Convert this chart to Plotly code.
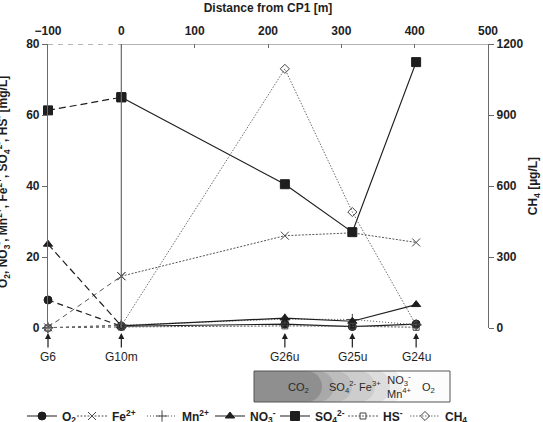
import plotly.graph_objects as go

# ---------------- data ----------------
distance = [-100, 0, 223, 315, 402]
wells = ["G6", "G10m", "G26u", "G25u", "G24u"]
o2 = [7.9, 0.5, 1.1, 0.4, 1.1]
fe = [0.2, 14.6, 26.0, 26.8, 24.1]
mn = [0.1, 0.8, 2.5, 2.4, 0.9]
no3 = [23.6, 0.6, 2.8, 1.9, 6.6]
so4 = [61.3, 65.0, 40.5, 27.0, 74.9]
hs = [0.0, 0.3, 0.6, 0.5, 0.2]
ch4 = [0, 10, 1095, 490, 12]

x_ticks = [-100, 0, 100, 200, 300, 400, 500]
y_ticks = [0, 20, 40, 60, 80]
y2_ticks = [0, 300, 600, 900, 1200]

W, H = 543, 422
L, R, T, B = 48, 55, 44, 94
PW, PH = W - L - R, H - T - B

FONT = "Arial, Liberation Sans, sans-serif"
DARK = "#1e1e1e"
AX = "#6a6a6a"


def px(xp):
    return (xp - L) / PW


def py(yp):
    return (H - B - yp) / PH


series = [
    # name, values, axis, main dash, color, width, marker symbol, marker size, lead dash, legend text x(px)
    ("O<sub>2</sub>", o2, "y", "solid", DARK, 1.2, "circle", 8, "6px,4px", 64),
    ("Fe<sup>2+</sup>", fe, "y", "2px,1.5px", "#555555", 1.0, "x-thin-open", 8, "5px,4px", 114),
    ("Mn<sup>2+</sup>", mn, "y", "1px,2px", "#555555", 1.0, "cross-thin-open", 8, "3px,3px", 184),
    ("NO<sub>3</sub><sup>-</sup>", no3, "y", "solid", DARK, 1.2, "triangle-up", 8, "7px,4px", 252),
    ("SO<sub>4</sub><sup>2-</sup>", so4, "y", "solid", DARK, 1.2, "square", 9, "7px,4px", 317),
    ("HS<sup>-</sup>", hs, "y", "2px,1.5px", "#555555", 1.0, "square-open", 6, "3px,3px", 385),
    ("CH<sub>4</sub>", ch4, "y2", "1.5px,1.5px", "#6e6e6e", 1.0, "diamond-open", 7, "3px,3px", 447),
]

fig = go.Figure()
legend_layouts = {}

for i, (name, vals, yax, dash, col, lw, sym, ms, lead, lx) in enumerate(series):
    is_open = sym.endswith("open")
    mk = dict(symbol=sym, size=ms, color="#444444" if is_open else DARK,
              line=dict(color="#444444" if is_open else col, width=1))
    lg = "legend" if i == 0 else f"legend{i + 1}"
    legend_layouts[lg] = dict(orientation="h", x=px(lx - 42), xanchor="left", y=py(416),
                              yanchor="middle", itemwidth=30, bgcolor="rgba(0,0,0,0)",
                              font=dict(family=FONT, size=12, color=DARK, weight=700))
    # leading segment G6 -> G10m (dashed)
    fig.add_trace(go.Scatter(
        x=distance[:2], y=vals[:2], yaxis=yax, mode="lines+markers",
        line=dict(color=col, width=lw, dash=lead), marker=mk,
        showlegend=False, cliponaxis=False, hoverinfo="skip"))
    # main segment from G10m onward
    fig.add_trace(go.Scatter(
        x=distance[1:], y=vals[1:], yaxis=yax, mode="lines+markers", name=name, legend=lg,
        line=dict(color=col, width=lw, dash=dash), marker=mk, cliponaxis=False))

shapes = []
# top axis line: dashed part then solid part
shapes.append(dict(type="line", xref="x", yref="y", x0=x_ticks[0], x1=x_ticks[1], y0=y_ticks[-1], y1=y_ticks[-1],
                   line=dict(color=AX, width=1.2, dash="5px,5px")))
shapes.append(dict(type="line", xref="x", yref="y", x0=x_ticks[1], x1=x_ticks[-1], y0=y_ticks[-1], y1=y_ticks[-1],
                   line=dict(color=AX, width=1.2)))
# vertical line at distance 0
shapes.append(dict(type="line", xref="x", yref="y", x0=0, x1=0, y0=y_ticks[0], y1=y_ticks[-1],
                   line=dict(color=AX, width=1.2)))

# redox gradient box (schematic)
bx0, bx1, by0, by1 = 254, 450, 371, 402
shapes.append(dict(type="rect", xref="paper", yref="paper", x0=px(bx0), x1=px(bx1), y0=py(by1), y1=py(by0),
                   fillcolor="#fcfcfc", line=dict(width=0), layer="above"))
layers = [("#eeeeee", 402, 392), ("#dddddd", 390, 377), ("#cdcdcd", 375, 358),
          ("#bdbdbd", 352, 334), ("#a9a9a9", 334, 316), ("#8f8f8f", 322, 305)]
for col, bmid, bedge in layers:
    c = (bmid - 0.25 * bedge) / 0.75
    path = (f"M {px(bx0)},{py(by0)} L {px(bedge)},{py(by0)} "
            f"C {px(c)},{py(by0)} {px(c)},{py(by1)} {px(bedge)},{py(by1)} "
            f"L {px(bx0)},{py(by1)} Z")
    shapes.append(dict(type="path", xref="paper", yref="paper", path=path,
                       fillcolor=col, line=dict(width=0), layer="above"))
shapes.append(dict(type="rect", xref="paper", yref="paper", x0=px(bx0), x1=px(bx1), y0=py(by1), y1=py(by0),
                   fillcolor="rgba(0,0,0,0)", line=dict(color="#555555", width=1), layer="above"))

annotations = []
# well arrows and labels
for d, w in zip(distance, wells):
    annotations.append(dict(x=d, y=0, xref="x", yref="y", text="", showarrow=True,
                            ax=0, ay=21, arrowhead=2, arrowsize=1, arrowwidth=1.2,
                            arrowcolor=DARK, standoff=5))
    annotations.append(dict(x=d, y=0, xref="x", yref="y", text=w, showarrow=False,
                            xanchor="center", yshift=-29, font=dict(family=FONT, size=12, color=DARK)))

# left axis title (partly cut at page edge, as in the original)
annotations.append(dict(x=px(3), y=py(182), xref="paper", yref="paper", textangle=-90,
                        xanchor="center", yanchor="middle",
                        text="O<sub>2</sub>, NO<sub>3</sub><sup>-</sup>, Mn<sup>2+</sup>, Fe<sup>2+</sup>, "
                             "SO<sub>4</sub><sup>2-</sup>, HS<sup>-</sup> [mg/L]",
                        showarrow=False, font=dict(family=FONT, size=12, color=DARK, weight=700)))

# box labels
box_txt = [("CO<sub>2</sub>", 298, 388), ("SO<sub>4</sub><sup>2-</sup> Fe<sup>3+</sup>", 355, 387),
           ("NO<sub>3</sub><sup>-</sup><br>Mn<sup>4+</sup>", 399, 386), ("O<sub>2</sub>", 428, 388)]
for t, xx, yy in box_txt:
    annotations.append(dict(x=px(xx), y=py(yy), xref="paper", yref="paper", text=t, showarrow=False,
                            xanchor="center", yanchor="middle",
                            font=dict(family=FONT, size=11, color="#2a2a2a")))

fig.update_layout(
    width=W, height=H, margin=dict(l=L, r=R, t=T, b=B, autoexpand=False),
    paper_bgcolor="white", plot_bgcolor="white",
    font=dict(family=FONT, size=12, color=DARK),
    shapes=shapes, annotations=annotations,
    xaxis=dict(range=[x_ticks[0], x_ticks[-1]], side="top", tickvals=x_ticks,
               ticks="inside", ticklen=4, tickcolor=AX, showline=False, showgrid=False,
               zeroline=False, tickfont=dict(family=FONT, size=12, color=DARK, weight=700),
               ticklabelstandoff=6,
               title=dict(text="Distance from CP1 [m]", standoff=8,
                          font=dict(family=FONT, size=12, color=DARK, weight=700))),
    yaxis=dict(range=[y_ticks[0], y_ticks[-1]], tickvals=y_ticks, ticks="outside", ticklen=5,
               tickcolor=AX, showline=True, linecolor=AX, linewidth=1.2, showgrid=False,
               zeroline=False, tickfont=dict(family=FONT, size=12, color=DARK, weight=700)),
    yaxis2=dict(range=[y2_ticks[0], y2_ticks[-1]], tickvals=y2_ticks, overlaying="y", side="right",
                anchor="x", ticks="outside", ticklen=5, tickcolor=AX, showline=True, linecolor=AX,
                linewidth=1.2, showgrid=False, zeroline=False,
                tickfont=dict(family=FONT, size=12, color=DARK, weight=700),
                title=dict(text="CH<sub>4</sub> [µg/L]", standoff=6,
                           font=dict(family=FONT, size=12, color=DARK, weight=700))),
    **legend_layouts,
)

fig.write_html("out.html")
